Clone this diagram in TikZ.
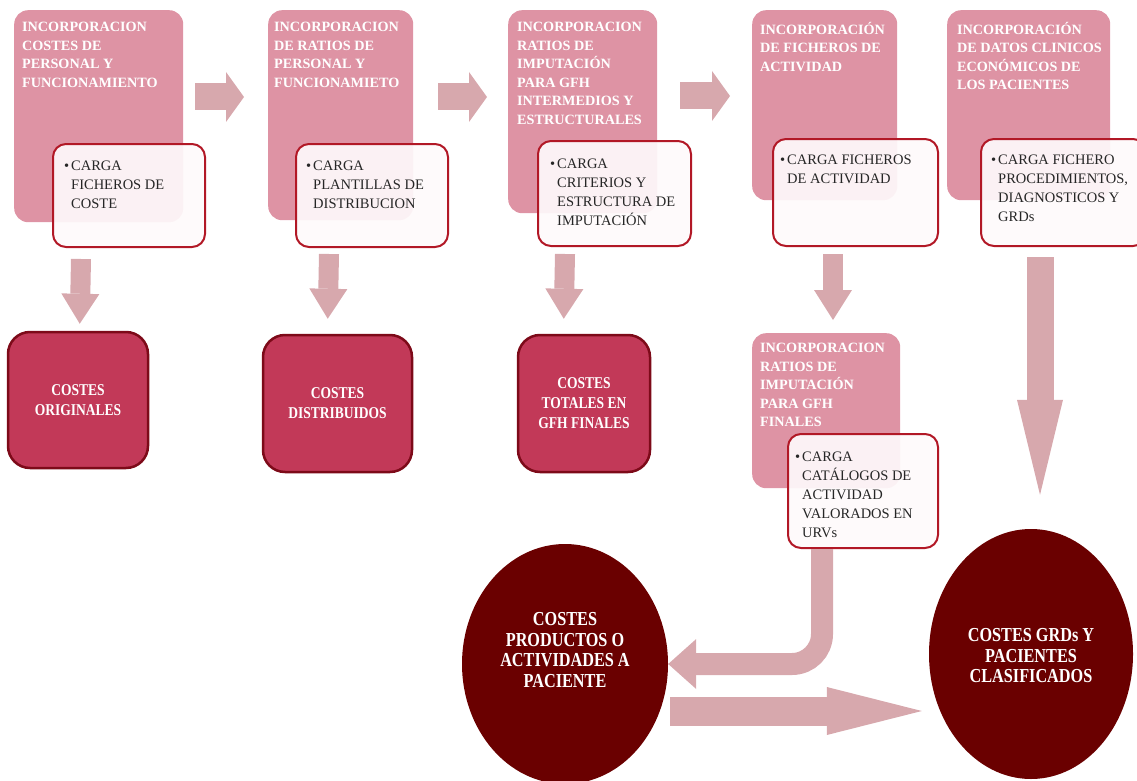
\documentclass[tikz,border=0pt]{standalone}
\usepackage{fontspec}
\setmainfont{Liberation Serif}
\newfontfamily\narrowserif{Liberation Serif}[FakeStretch=0.82]
\usetikzlibrary{shapes.geometric,arrows.meta,calc}
\definecolor{boxpink}{RGB}{222,147,164}
\definecolor{arrowpink}{RGB}{215,168,173}
\definecolor{framered}{RGB}{178,24,38}
\definecolor{cardfill}{RGB}{254,250,251}
\definecolor{costred}{RGB}{194,57,88}
\definecolor{costedge}{RGB}{125,10,25}
\definecolor{ovalred}{RGB}{106,0,0}

\tikzset{
  stagebox/.style={fill=boxpink, rounded corners=14pt, anchor=north west, inner sep=0pt},
  stagetitle/.style={anchor=north west, inner sep=0pt, align=left, text=white,
    font=\fontsize{14.2}{18.5}\selectfont\bfseries, execute at begin node={\rule{0pt}{12pt}}},
  loadbox/.style={draw=framered, line width=2pt, fill=cardfill, fill opacity=0.92,
    rounded corners=13pt, anchor=north west, inner sep=0pt},
  loadtext/.style={anchor=north west, inner sep=0pt, align=left, text=black!85,
    font=\fontsize{14.5}{19}\selectfont, execute at begin node={\rule{0pt}{12pt}}},
  costbox/.style={draw=costedge, line width=2.5pt, fill=costred, rounded corners=22pt,
    inner sep=0pt, align=center, text=white, font=\narrowserif\fontsize{16.5}{20}\selectfont\bfseries},
  resultoval/.style={ellipse, fill=ovalred, inner sep=0pt},
  ovaltext/.style={align=center, text=white, inner sep=0pt, font=\narrowserif\fontsize{19.8}{20.5}\selectfont\bfseries},
  flowarrow/.style={draw=arrowpink, line width=#1},
}

\begin{document}
\begin{tikzpicture}[x=1pt,y=-1pt]
\useasboundingbox (0,0) rectangle (1137,781);
% Stages (pink)
\node[stagebox, minimum width=169pt, minimum height=212pt] (s1) at (14,10) {};
\node[stagebox, minimum width=145pt, minimum height=210pt] (s2) at (268,10) {};
\node[stagebox, minimum width=149pt, minimum height=203pt] (s3) at (508,10) {};
\node[stagebox, minimum width=145pt, minimum height=190pt] (s4) at (752,10) {};
\node[stagebox, minimum width=163pt, minimum height=190pt] (s5) at (947,10) {};
\node[stagebox, minimum width=148pt, minimum height=155pt] (s6) at (752,333) {};
\node[stagetitle] (t1) at ($(s1.north west)+(8,12)$) {INCORPORACION\\COSTES DE\\PERSONAL Y\\FUNCIONAMIENTO};
\node[stagetitle] (t2) at ($(s2.north west)+(6,12)$) {INCORPORACION\\DE RATIOS DE\\PERSONAL Y\\FUNCIONAMIETO};
\node[stagetitle] (t3) at ($(s3.north west)+(9,12)$) {INCORPORACION\\RATIOS DE\\IMPUTACIÓN\\PARA GFH\\INTERMEDIOS Y\\ESTRUCTURALES};
\node[stagetitle] (t4) at ($(s4.north west)+(8,12)$) {INCORPORACIÓN\\DE FICHEROS DE\\ACTIVIDAD};
\node[stagetitle] (t5) at ($(s5.north west)+(10,12)$) {INCORPORACIÓN\\DE DATOS CLINICOS\\ECONÓMICOS DE\\LOS PACIENTES};
\node[stagetitle] (t6) at ($(s6.north west)+(8,10)$) {INCORPORACION\\RATIOS DE\\IMPUTACIÓN\\PARA GFH\\FINALES};
% Loads (white)
\node[loadbox, minimum width=152pt, minimum height=103pt] (w1) at (52,143) {};
\node[loadbox, minimum width=152pt, minimum height=103pt] (w2) at (295,143) {};
\node[loadbox, minimum width=153pt, minimum height=105pt] (w3) at (537,140) {};
\node[loadbox, minimum width=165pt, minimum height=107pt] (w4) at (772,138) {};
\node[loadbox, minimum width=165pt, minimum height=107pt] (w5) at (980,138) {};
\node[loadbox, minimum width=150pt, minimum height=114pt] (w6) at (787,433) {};
\node[loadtext] (c1) at ($(w1.north west)+(19,18)$) {\llap{•\hspace{2pt}}CARGA\\FICHEROS DE\\COSTE};
\node[loadtext] (c2) at ($(w2.north west)+(18,18)$) {\llap{•\hspace{2pt}}CARGA\\PLANTILLAS DE\\DISTRIBUCION};
\node[loadtext] (c3) at ($(w3.north west)+(20,19)$) {\llap{•\hspace{2pt}}CARGA\\CRITERIOS Y\\ESTRUCTURA DE\\IMPUTACIÓN};
\node[loadtext] (c4) at ($(w4.north west)+(15,17)$) {\llap{•\hspace{2pt}}CARGA FICHEROS\\DE ACTIVIDAD};
\node[loadtext] (c5) at ($(w5.north west)+(18,17)$) {\llap{•\hspace{2pt}}CARGA FICHERO\\PROCEDIMIENTOS,\\DIAGNOSTICOS Y\\GRDs};
\node[loadtext] (c6) at ($(w6.north west)+(15,19)$) {\llap{•\hspace{2pt}}CARGA\\CATÁLOGOS DE\\ACTIVIDAD\\VALORADOS EN\\URVs};
% Costs
\node[costbox, minimum width=140pt, minimum height=136pt] (d1) at (78,400) {COSTES\\ORIGINALES};
\node[costbox, minimum width=149pt, minimum height=137pt] (d2) at (337.5,403.5) {COSTES\\DISTRIBUIDOS};
\node[costbox, minimum width=132pt, minimum height=137pt] (d3) at (584,403.5) {COSTES\\TOTALES EN\\GFH FINALES};
% Results
\node[resultoval, minimum width=206pt, minimum height=240pt,
  label={[ovaltext, yshift=14pt]center:{COSTES\\PRODUCTOS O\\ACTIVIDADES A\\PACIENTE}}] (e1) at (565,664) {};
\node[resultoval, minimum width=204pt, minimum height=250pt,
  label={[ovaltext, yshift=-2pt]center:{COSTES GRDs Y\\PACIENTES\\CLASIFICADOS}}] (e2) at (1031,654) {};
% Arrows between stages
\draw[flowarrow=27pt, -{Triangle[length=18pt,width=50pt,line width=0pt]}]
  ($(s1.north east)+(12,87)$) -- ($(s2.north west)+(-24,87)$);
\draw[flowarrow=27pt, -{Triangle[length=18pt,width=50pt,line width=0pt]}]
  ($(s2.north east)+(25,87)$) -- ($(s3.north west)+(-21,87)$);
\draw[flowarrow=27pt, -{Triangle[length=18pt,width=50pt,line width=0pt]}]
  ($(s3.north east)+(23,86)$) -- ($(s4.north west)+(-22,86)$);
% Arrows down to costs
\draw[flowarrow=20pt, -{Triangle[length=30pt,width=38pt,line width=0pt]}]
  ($(w1.south west)+(29,11)$) -- ($(d1.north west)+(73,-7)$);
\draw[flowarrow=20pt, -{Triangle[length=30pt,width=38pt,line width=0pt]}]
  ($(w2.south west)+(34,6)$) -- ($(d2.north west)+(66,-15)$);
\draw[flowarrow=20pt, -{Triangle[length=30pt,width=38pt,line width=0pt]}]
  ($(w3.south west)+(28,7)$) -- ($(d3.north west)+(47,-15)$);
\draw[flowarrow=20pt, -{Triangle[length=30pt,width=38pt,line width=0pt]}]
  ($(w4.south west)+(61,7)$) -- ($(s6.north west)+(81,-13)$);
\draw[flowarrow=27pt, -{Triangle[length=95pt,width=46pt,line width=0pt]}]
  ($(w5.south west)+(60,10)$) -- ($(e2.north)+(9,-34)$);
% Arrows to results
\draw[flowarrow=22pt, rounded corners=30pt, -{Triangle[length=28pt,width=50pt,line width=0pt]}]
  ($(w6.south west)+(35,0)$) |- (e1.east);
\draw[flowarrow=29pt, -{Triangle[length=95pt,width=48pt,line width=0pt]}]
  ($(e1.east)+(2,47)$) -- ($(e2.west)+(-7,57)$);
\end{tikzpicture}
\end{document}
